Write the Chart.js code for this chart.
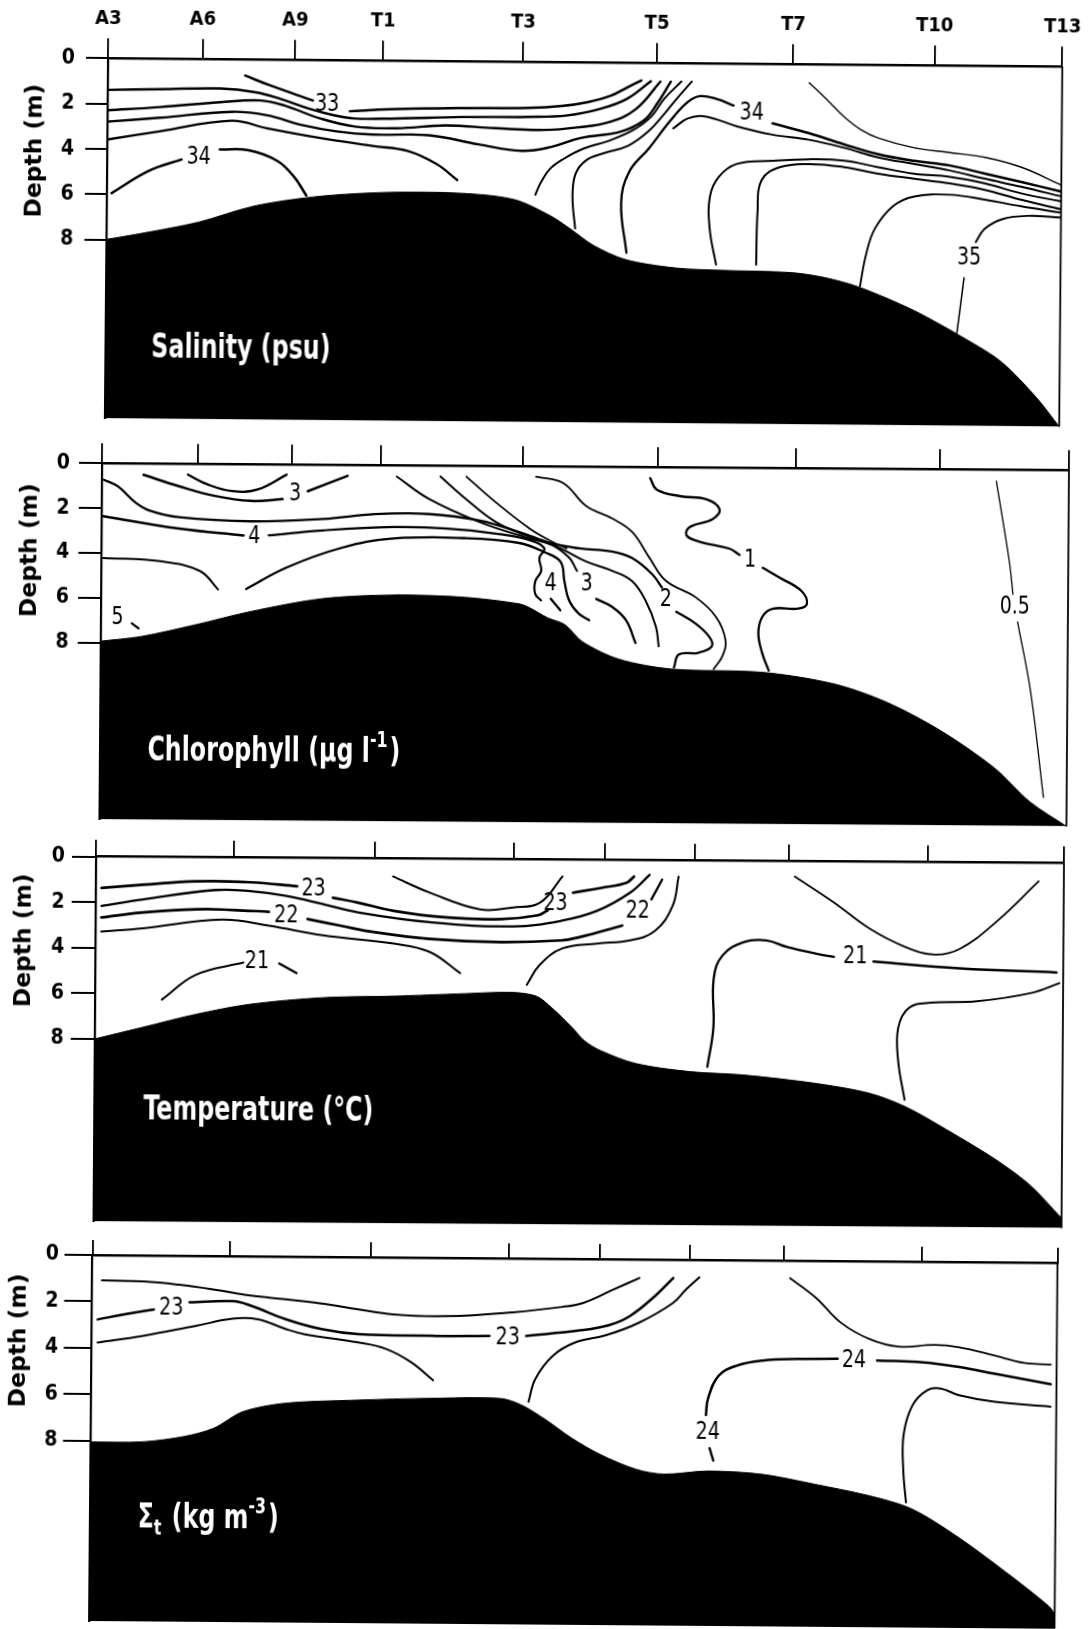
<!DOCTYPE html>
<html><head><meta charset="utf-8">
<script src="https://cdn.jsdelivr.net/npm/chart.js@4.4.1/dist/chart.umd.min.js"></script>
<style>
html,body{margin:0;padding:0;background:#fff;}
#wrap{position:relative;width:1089px;height:1629px;overflow:hidden;background:#fff;}
canvas{position:absolute;left:0;}
</style></head><body><div id="wrap">
<canvas id="c1"></canvas><canvas id="c2"></canvas><canvas id="c3"></canvas><canvas id="c4"></canvas>
</div>
<script>
// ---------- stations / ticks ----------
const stations = ['A3','A6','A9','T1','T3','T5','T7','T10','T13'];
const stationPosUpper = [0, 9.9, 19.6, 28.8, 43.5, 57.5, 71.8, 86.6, 100];
const stationPosLower = [0, 14.2, 28.8, 43.2, 52.6, 61.9, 71.6, 85.9, 100];
const depthTicks = [0, 2, 4, 6, 8];
const depthMax = [15.87, 15.88, 16.03, 15.74];

// ---------- Salinity (psu) ----------
const salBottom = [[0,7.98],[3.6,7.71],[9.6,7.19],[15.5,6.45],[22.3,6.0],[29.6,5.8],[37.1,5.81],[42.7,6.07],[46.5,6.77],[48.6,7.34],[51.0,8.05],[54.4,8.67],[59.6,9.02],[64.8,9.11],[71.7,9.18],[75.3,9.39],[79.0,9.81],[84.6,10.79],[90.2,12.06],[93.9,13.04],[97.6,14.6],[100,15.87]];
const sal33a = [[14.4,0.71],[17.0,1.13],[21.5,1.78]];
const sal33b = [[25.4,2.24],[29.6,2.14],[37.2,2.06],[44.0,2.03],[47.6,1.93],[50.3,1.75],[52.7,1.46],[54.4,1.09],[55.9,0.77]];
const salB = [[0,1.39],[5.5,1.34],[11.8,1.29],[15.5,1.44],[18.1,1.72],[21.1,2.14],[23.7,2.42],[25.9,2.56],[30.3,2.54],[37.2,2.45],[44.0,2.42],[48.2,2.34],[51.7,2.03],[54.4,1.59],[56.9,0.80]];
const salC = [[0,2.29],[5.5,2.13],[11.8,1.89],[16.0,1.80],[18.5,2.01],[22.3,2.57],[25.9,2.91],[30.3,2.97],[35.4,2.83],[40.6,2.93],[45.8,2.99],[49.2,2.87],[52.7,2.60],[55.4,2.02],[57.9,0.81]];
const salD = [[0,2.79],[5.5,2.60],[13.0,2.31],[16.7,2.45],[20.4,2.87],[24.0,3.13],[27.8,3.26],[33.7,3.27],[38.9,3.65],[43.4,3.92],[46.5,3.74],[49.6,3.33],[53.8,3.03],[56.2,2.53],[57.5,1.84],[59.0,0.81]];
const salE = [[0,3.58],[5.5,3.20],[13.0,2.70],[16.7,3.02],[22.3,3.43],[27.8,3.76],[31.5,3.97],[34.5,4.53],[36.7,5.23]];
const sal34a = [[0.5,5.94],[4.35,4.95],[7.8,4.43]];
const sal34b = [[11.8,3.97],[14.8,4.0],[17.8,4.45],[19.6,5.15],[20.9,5.97]];
const salF = [[44.9,5.85],[45.5,5.28],[46.4,4.71],[47.9,4.24],[49.9,3.80],[52.5,3.45],[55.1,2.96],[57.0,2.35],[58.3,1.58],[60.1,0.80]];
const salG = [[49.1,7.32],[48.8,5.90],[49.1,4.91],[50.2,4.31],[52.0,4.0],[54.6,3.65],[56.7,3.01],[58.2,2.31],[59.6,1.58],[61.2,0.80]];
const sal34c = [[54.5,8.37],[53.9,6.19],[54.7,4.81],[56.8,3.74],[59.0,2.52],[60.8,1.70],[62.1,1.44],[63.8,1.56],[65.6,1.84]];
const sal34d = [[69.7,2.61],[73.5,3.03],[77.2,3.51],[80.8,3.93],[84.6,4.21],[88.3,4.40],[92.0,4.75],[95.8,5.10],[100,5.51]];
const salH = [[59.3,2.87],[60.8,2.43],[62.6,2.33],[66.0,2.76],[69.7,3.11],[73.5,3.32],[77.2,3.66],[80.8,4.07],[84.6,4.35],[88.3,4.62],[92.0,4.97],[95.8,5.31],[100,5.72]];
const salR1 = [[73.5,0.81],[75.3,1.52],[77.2,2.30],[79.0,2.87],[80.8,3.22],[84.6,3.64],[88.3,3.83],[92.0,4.03],[95.8,4.45],[100,5.22]];
const salT1 = [[63.9,8.86],[63.2,7.28],[63.2,5.85],[64.1,4.99],[66.0,4.41],[69.7,4.26],[73.5,4.18],[77.2,4.23],[80.8,4.50],[84.6,4.78],[88.3,4.90],[92.0,5.18],[95.8,5.60],[100,5.94]];
const salT2 = [[68.1,8.84],[68.2,6.55],[68.6,5.11],[70.5,4.54],[73.5,4.39],[77.2,4.51],[80.8,4.79],[84.6,5.0],[88.3,5.19],[92.0,5.46],[95.8,5.88],[100,6.29]];
const salK = [[79.0,9.75],[79.6,8.37],[80.5,7.22],[82.4,6.21],[84.6,5.78],[88.3,5.69],[92.0,5.89],[95.8,6.17],[100,6.44]];
const sal35a = [[89.2,11.77],[89.9,9.34]];
const sal35b = [[91.1,7.76],[92.0,7.18],[93.9,6.74],[96.5,6.59],[100,6.65]];
const salLabels = [['33',23.0,1.97],['34',9.6,4.33],['34',67.5,2.19],['35',90.4,8.47]];

// ---------- Chlorophyll (ug/l) ----------
const chlBottom = [[0,7.93],[4.2,7.71],[9.8,7.17],[15.4,6.57],[22.8,5.97],[30.2,5.78],[37.6,5.86],[43.2,6.13],[44.3,6.3],[46.2,6.75],[48.0,7.05],[49.8,7.8],[53.6,8.57],[59.0,8.99],[68.4,9.11],[75.8,9.6],[81.3,10.4],[86.9,11.65],[92.5,13.3],[96.2,14.8],[100,15.88]];
const chlArc = [[8.9,0.48],[11.0,0.92],[13.5,1.2],[16.1,1.12],[19.1,0.45]];
const chl3a = [[4.3,0.50],[8.0,1.0],[11.7,1.42],[15.4,1.63],[18.7,1.54]];
const chl3b = [[21.3,1.18],[25.4,0.48]];
const chlL1a = [[0.2,0.73],[1.65,1.02],[3.5,1.74],[5.0,2.10],[8.0,2.38],[15.4,2.54],[22.9,2.41],[28.3,2.18],[33.9,2.16],[39.1,2.43],[43.2,2.93],[46.6,3.43],[49.4,3.64],[52.8,3.77],[54.9,4.06],[57.0,4.78],[58.0,5.36]];
const chlL1b = [[59.5,6.44],[61.5,6.96],[62.9,7.53],[63.2,7.96],[61.8,8.26],[59.8,8.34],[59.3,8.92]];
const chl4a = [[0.2,2.36],[8.0,2.89],[14.7,3.17]];
const chl4b = [[17.3,3.16],[22.9,2.92],[30.2,2.75],[35.7,2.80],[40.8,3.01],[44.3,3.29],[45.8,3.65],[45.3,4.08],[45.5,4.66],[44.9,5.11],[44.9,5.69],[45.5,5.97]];
const chlL3 = [[15.0,5.56],[19.1,4.60],[24.7,3.71],[30.2,3.26],[37.6,3.22],[43.2,3.42],[45.8,3.82],[47.5,4.25],[47.9,5.10],[48.4,5.96],[49.4,6.55],[50.5,6.84]];
const chlL4 = [[0.2,4.22],[6.1,4.35],[10.2,4.77],[12.1,5.59]];
const chlTa1 = [[30.5,0.50],[33.9,1.5],[39.1,2.50],[44.3,3.22],[46.6,3.50],[48.4,4.07],[49.2,4.65]];
const chlTa2 = [[51.2,5.89],[52.9,6.25],[54.3,6.83],[55.3,7.84]];
const chlTb = [[35.0,0.48],[37.7,1.49],[40.8,2.50],[44.3,3.15],[47.1,3.57],[50.1,4.22],[52.9,4.64],[54.9,5.08],[56.3,5.94],[57.4,7.11],[57.7,7.98]];
const chlTc = [[37.7,0.48],[40.8,1.63],[44.3,2.78],[46.6,3.35],[48.1,3.65]];
const chlLong = [[44.9,0.46],[47.7,0.73],[50.1,1.75],[52.9,2.32],[54.9,2.90],[56.7,4.05],[58.4,5.06],[61.5,5.79],[63.6,6.65],[64.6,7.67],[64.3,8.40],[63.4,8.98]];
const chl1a = [[56.7,0.49],[57.4,1.0],[59.8,1.28],[62.5,1.41],[63.9,1.85],[63.2,2.29],[60.8,2.66],[60.5,3.03],[61.8,3.30],[64.9,3.60],[66.0,3.88]];
const chl1b = [[68.4,4.45],[70.2,4.89],[72.4,5.46],[73.0,6.04],[72.1,6.26],[69.5,6.27],[68.4,6.63],[68.0,7.37],[68.4,8.24],[69.1,9.03]];
const chl05a = [[92.5,0.52],[93.9,4.09],[94.3,5.55]];
const chl05b = [[94.8,6.78],[96.2,9.90],[97.6,14.6]];
const chlDash4 = [[46.5,5.9],[47.5,6.41]];
const chlDash5 = [[3.2,7.13],[3.9,7.35]];
const chlLabels = [['3',20.0,1.32],['4',15.8,3.23],['5',1.7,6.91],['4',46.5,5.26],['3',50.2,5.25],['2',58.4,5.92],['1',67.1,4.11],['0.5',94.5,6.13]];

// ---------- Temperature (C) ----------
const tmpBottom = [[0,8.01],[4.9,7.49],[10.4,6.90],[16.0,6.44],[23.5,6.13],[30.8,6.04],[38.2,5.91],[43.0,5.84],[45.6,6.0],[47.2,6.51],[49.3,7.36],[50.6,7.95],[52.2,8.36],[55.9,8.93],[61.5,9.27],[67.0,9.40],[74.5,9.75],[80.0,10.16],[83.7,10.73],[87.4,11.58],[93.0,13.0],[96.7,14.15],[100,15.6]];
const tmp23a = [[0.6,1.37],[4.9,1.22],[10.4,1.05],[16.0,1.08],[20.8,1.24]];
const tmp23b = [[24.5,1.73],[27.1,1.94],[30.8,2.29],[36.4,2.57],[41.9,2.62],[45.7,2.44],[46.7,2.22]];
const tmp23c = [[49.3,1.44],[52.2,1.22],[54.8,0.99],[55.6,0.71]];
const tmpL2 = [[0.6,2.16],[4.9,1.86],[12.3,1.43],[16.0,1.47],[19.7,1.67],[23.5,2.02],[27.1,2.37],[34.5,2.78],[43.1,2.94],[48.2,2.67],[51.8,2.23],[55.2,1.42],[57.2,0.63]];
const tmp22a = [[0.6,2.67],[4.9,2.44],[10.4,2.28],[14.2,2.30],[17.9,2.37]];
const tmp22b = [[21.9,2.68],[25.3,2.96],[28.9,3.24],[34.5,3.51],[41.9,3.63],[48.1,3.54],[50.0,3.39],[54.4,2.87]];
const tmp22c = [[57.4,1.71],[58.5,0.84]];
const tmpL4 = [[0.6,3.29],[4.9,3.13],[13.0,2.73],[17.9,2.98],[23.5,3.39],[30.8,3.73],[34.5,4.08],[37.7,5.01]];
const tmpR = [[44.6,5.50],[45.9,4.63],[48.2,3.90],[51.8,3.67],[55.2,3.52],[57.8,3.09],[59.6,1.99],[60.2,0.70]];
const tmpU = [[30.7,0.78],[34.5,1.48],[39.7,2.20],[43.1,2.11],[45.9,1.89],[48.2,0.73]];
const tmp21a = [[6.9,6.26],[10.4,5.16],[15.3,4.61]];
const tmp21b = [[19.0,4.64],[20.8,5.06]];
const tmp21c = [[63.3,9.05],[63.9,7.32],[63.9,5.16],[64.8,4.15],[67.0,3.56],[69.3,3.48],[71.5,3.77],[74.5,4.05],[76.3,4.18]];
const tmp21d = [[80.4,4.38],[89.3,4.65],[99.3,4.80]];
const tmpV = [[72.2,0.66],[76.3,1.80],[80.0,2.94],[83.7,3.73],[86.7,4.05],[89.3,3.79],[93.0,2.61],[97.4,0.80]];
const tmpW = [[83.7,10.44],[83.0,8.70],[83.0,7.26],[84.1,6.40],[86.3,6.17],[91.1,6.09],[96.7,5.71],[99.6,5.27]];
const tmpLabels = [['23',22.5,1.38],['22',19.7,2.55],['21',16.7,4.56],['23',47.5,1.95],['22',56.0,2.23],['21',78.5,4.18]];

// ---------- Sigma-t (kg m-3) ----------
const sigBottom = [[0,8.04],[5.3,8.02],[9.7,7.77],[12.7,7.41],[15.7,6.69],[20.1,6.31],[27.6,6.15],[35.0,6.05],[42.4,6.03],[44.6,6.31],[47.1,6.93],[49.8,7.71],[52.8,8.41],[56.5,9.03],[59.4,9.23],[63.9,9.08],[69.5,9.20],[75.0,9.61],[80.6,10.08],[85.1,10.64],[89.9,11.83],[95.5,13.51],[99.4,14.78],[100,15.1]];
const sigS1 = [[1.0,1.09],[5.3,1.12],[9.0,1.25],[12.7,1.45],[16.4,1.69],[20.1,1.84],[23.8,2.01],[27.6,2.25],[31.2,2.45],[36.8,2.51],[43.6,2.32],[48.7,2.07],[50.9,1.89],[54.0,1.31],[56.7,0.80]];
const sigS2a = [[0.6,2.77],[3.4,2.54],[6.4,2.32]];
const sigS2b = [[10.1,2.0],[14.6,1.94],[16.4,2.12],[20.1,2.70],[23.8,3.11],[27.6,3.31],[35.0,3.36],[41.2,3.34]];
const sigS2c = [[45.0,3.33],[50.5,3.08],[53.5,2.85],[55.7,2.45],[58.3,1.58],[60.2,0.79]];
const sigS3 = [[0.6,3.76],[5.3,3.46],[10.8,3.01],[14.6,2.69],[17.2,2.71],[20.1,3.12],[22.0,3.33],[27.6,3.67],[30.5,3.94],[33.1,4.50],[35.4,5.27]];
const sigS4 = [[45.3,6.16],[46.0,5.17],[47.8,4.17],[50.1,3.59],[53.3,3.27],[56.7,2.72],[60.2,1.86],[61.5,1.29],[62.9,0.75]];
const sigS5 = [[72.3,0.75],[75.0,1.59],[77.6,2.65],[80.6,3.35],[83.6,3.66],[87.3,3.58],[89.9,3.67],[93.6,4.02],[96.6,4.32],[99.4,4.38]];
const sig24a = [[63.7,6.67],[63.9,5.96],[65.0,4.97],[66.9,4.53],[69.5,4.31],[73.2,4.23],[77.3,4.21]];
const sig24b = [[81.4,4.27],[86.2,4.33],[89.9,4.52],[93.6,4.80],[99.4,5.23]];
const sigDash = [[64.1,8.09],[64.5,8.63]];
const sigW = [[84.5,10.36],[84.2,9.01],[84.2,7.45],[85.1,6.18],[86.6,5.53],[88.0,5.45],[89.9,5.73],[93.6,6.0],[99.4,6.19]];
const sigLabels = [['23',8.2,2.28],['23',43.1,3.42],['24',79.0,4.3],['24',63.9,7.45]];

// ---------- presentation ----------
const NARROW = "'Liberation Sans Narrow','DejaVu Sans Condensed','Arial Narrow',sans-serif";

const panels = [
  {id:'c1', top:0, h:442, L:108, R:1073, axisH:58.3, rot:0.5, tlx:20, tly:22, ypad:11, dX:36, dD:4.1,
   ticks:stationPosUpper, showStations:true, bottom:salBottom, labels:salLabels,
   title:[{t:'Salinity (psu)'}], titleAt:[4.8,12.8],
   lines:[[sal33a,2.5],[sal33b,2.5],[salB,2.4],[salC,2.4],[salD,2.4],[salE,2.3],[sal34a,2.5],[sal34b,2.5],[salF,2.0],[salG,2.0],[sal34c,2.3],[sal34d,2.5],[salH,2.0],[salR1,1.4],[salT1,2.0],[salT2,2.0],[salK,1.9],[sal35a,1.5],[sal35b,1.9]]},
  {id:'c2', top:430, h:411, L:102, R:1069, axisH:33.3, rot:0.41, tlx:20, tly:23, ypad:9, dX:30.5, dD:3.9,
   ticks:stationPosUpper, showStations:false, bottom:chlBottom, labels:chlLabels,
   title:[{t:'Chlorophyll (\u00b5g l'},{t:'-1',sup:true},{t:')'}], titleAt:[4.9,12.85],
   lines:[[chlArc,2.3],[chl3a,2.5],[chl3b,2.5],[chlL1a,2.3],[chlL1b,2.3],[chl4a,2.5],[chl4b,2.2],[chlL3,2.3],[chlL4,2.0],[chlTa1,2.0],[chlTa2,2.3],[chlTb,2.0],[chlTc,1.8],[chlLong,1.8],[chl1a,2.3],[chl1b,2.3],[chl05a,1.3],[chl05b,1.3],[chlDash4,2.3],[chlDash5,2.3]]},
  {id:'c3', top:835, h:406, L:96, R:1064, axisH:21.7, rot:0.39, tlx:17, tly:24, ypad:7, dX:25, dD:3.7,
   ticks:stationPosLower, showStations:false, bottom:tmpBottom, labels:tmpLabels,
   title:[{t:'Temperature (\u00b0C)'}], titleAt:[5.1,11.17],
   lines:[[tmp23a,2.7],[tmp23b,2.7],[tmp23c,2.7],[tmpL2,2.3],[tmp22a,2.7],[tmp22b,2.7],[tmp22c,2.3],[tmpL4,2.0],[tmpR,2.0],[tmpU,2.0],[tmp21a,2.0],[tmp21b,2.3],[tmp21c,2.3],[tmp21d,2.5],[tmpV,1.8],[tmpW,2.0]]},
  {id:'c4', top:1232, h:407, L:92.5, R:1057.5, axisH:23, rot:0.46, tlx:15, tly:28, ypad:5.5, dX:19.7, dD:3.7,
   ticks:stationPosLower, showStations:false, bottom:sigBottom, labels:sigLabels,
   title:[{t:'\u03a3'},{t:'t',sub:true},{t:' (kg m'},{t:'-3',sup:true},{t:')'}], titleAt:[4.9,11.33],
   lines:[[sigS1,2.0],[sigS2a,2.5],[sigS2b,2.5],[sigS2c,2.5],[sigS3,2.0],[sigS4,2.0],[sigS5,1.8],[sig24a,2.5],[sig24b,2.5],[sigDash,2.3],[sigW,2.0]]}
];

function pts(a){ return a.map(([x,y]) => ({x:x, y:y})); }

// text drawn horizontally condensed to mimic the original condensed typeface
function drawNarrow(ctx, text, x, y, sx){
  ctx.save(); ctx.translate(x, y); ctx.scale(sx, 1); ctx.fillText(text, 0, 0); ctx.restore();
}

function drawRich(ctx, segs, x, y, size, sx){
  ctx.textAlign = 'left'; ctx.textBaseline = 'middle';
  let cx = x;
  segs.forEach(s => {
    const small = s.sup || s.sub;
    const sz = small ? Math.round(size*0.66) : size;
    ctx.font = 'bold ' + sz + 'px ' + NARROW;
    const dy = s.sup ? -size*0.38 : (s.sub ? size*0.3 : 0);
    drawNarrow(ctx, s.t, cx, y + dy, sx);
    cx += ctx.measureText(s.t).width * sx + (small ? 2 : 0);
  });
}

const deco = {
  id:'deco',
  afterDatasetsDraw(chart, args, o){
    const {ctx, chartArea:a, scales:{x, y}} = chart;
    ctx.save();
    ctx.strokeStyle = '#000'; ctx.lineWidth = 1.8;
    ctx.beginPath(); ctx.moveTo(a.right, a.top); ctx.lineTo(a.right, a.bottom); ctx.stroke();
    ctx.fillStyle = '#000';
    ctx.font = '24px ' + NARROW; ctx.textAlign = 'center'; ctx.textBaseline = 'middle';
    o.labels.forEach(l => drawNarrow(ctx, l[0], x.getPixelForValue(l[1]), y.getPixelForValue(l[2]), 0.88));
    ctx.fillStyle = '#fff';
    drawRich(ctx, o.title, x.getPixelForValue(o.titleAt[0]), y.getPixelForValue(o.titleAt[1]), 33, 0.8);
    ctx.fillStyle = '#000';
    ctx.translate(o.dX, y.getPixelForValue(o.dD)); ctx.rotate(-Math.PI/2);
    ctx.font = 'bold 26px ' + NARROW; ctx.textAlign = 'center'; ctx.textBaseline = 'middle';
    ctx.scale(1.0, 0.9);
    ctx.fillText('Depth (m)', 0, 0);
    ctx.restore();
  }
};

panels.forEach((P, i) => {
  const cv = document.getElementById(P.id);
  cv.width = 1089; cv.height = P.h;
  cv.style.top = P.top + 'px';
  cv.style.transformOrigin = P.L + 'px ' + P.axisH + 'px';
  cv.style.transform = 'rotate(' + P.rot + 'deg)';
  const datasets = P.lines.map(([d, w]) => ({
    data: pts(d), showLine:true, borderColor:'#000', borderWidth:w, pointRadius:0,
    tension:0.4, fill:false, borderCapStyle:'round', borderJoinStyle:'round', order:1
  }));
  datasets.push({
    data: pts(P.bottom), showLine:true, borderColor:'#000', backgroundColor:'#000', borderWidth:1,
    pointRadius:0, tension:0.3, fill:{value: depthMax[i]}, order:0
  });
  new Chart(cv, {
    type:'scatter',
    data:{datasets},
    options:{
      responsive:false, animation:false, devicePixelRatio:1,
      layout:{padding:{left:0, top:0, right:1089 - P.R, bottom:14}},
      plugins:{legend:{display:false}, tooltip:{enabled:false},
        deco:{labels:P.labels, title:P.title, titleAt:P.titleAt, dX:P.dX, dD:P.dD}},
      scales:{
        x:{type:'linear', position:'top', min:0, max:100,
          afterBuildTicks: s => { s.ticks = P.ticks.map(v => ({value:v})); },
          afterFit: s => { s.height = P.axisH; },
          grid:{drawOnChartArea:false, drawTicks:true, tickLength:P.tlx, color:'#000', lineWidth:1.8},
          border:{display:true, color:'#000', width:2.6},
          ticks:{padding:8, color:'#000', font:{family:NARROW, size:20, weight:'bold'},
            maxRotation:0, autoSkip:false,
            callback: (v, idx) => P.showStations ? stations[idx] : ''}
        },
        y:{type:'linear', position:'left', reverse:true, min:0, max:depthMax[i],
          afterBuildTicks: s => { s.ticks = depthTicks.map(v => ({value:v})); },
          afterFit: s => { s.width = P.L; },
          grid:{drawOnChartArea:false, drawTicks:true, tickLength:P.tly, color:'#000', lineWidth:2},
          border:{display:true, color:'#000', width:2.2},
          ticks:{padding:P.ypad, color:'#000', font:{family:NARROW, size:21, weight:'bold'}, autoSkip:false}
        }
      }
    },
    plugins:[deco]
  });
});
</script></body></html>
